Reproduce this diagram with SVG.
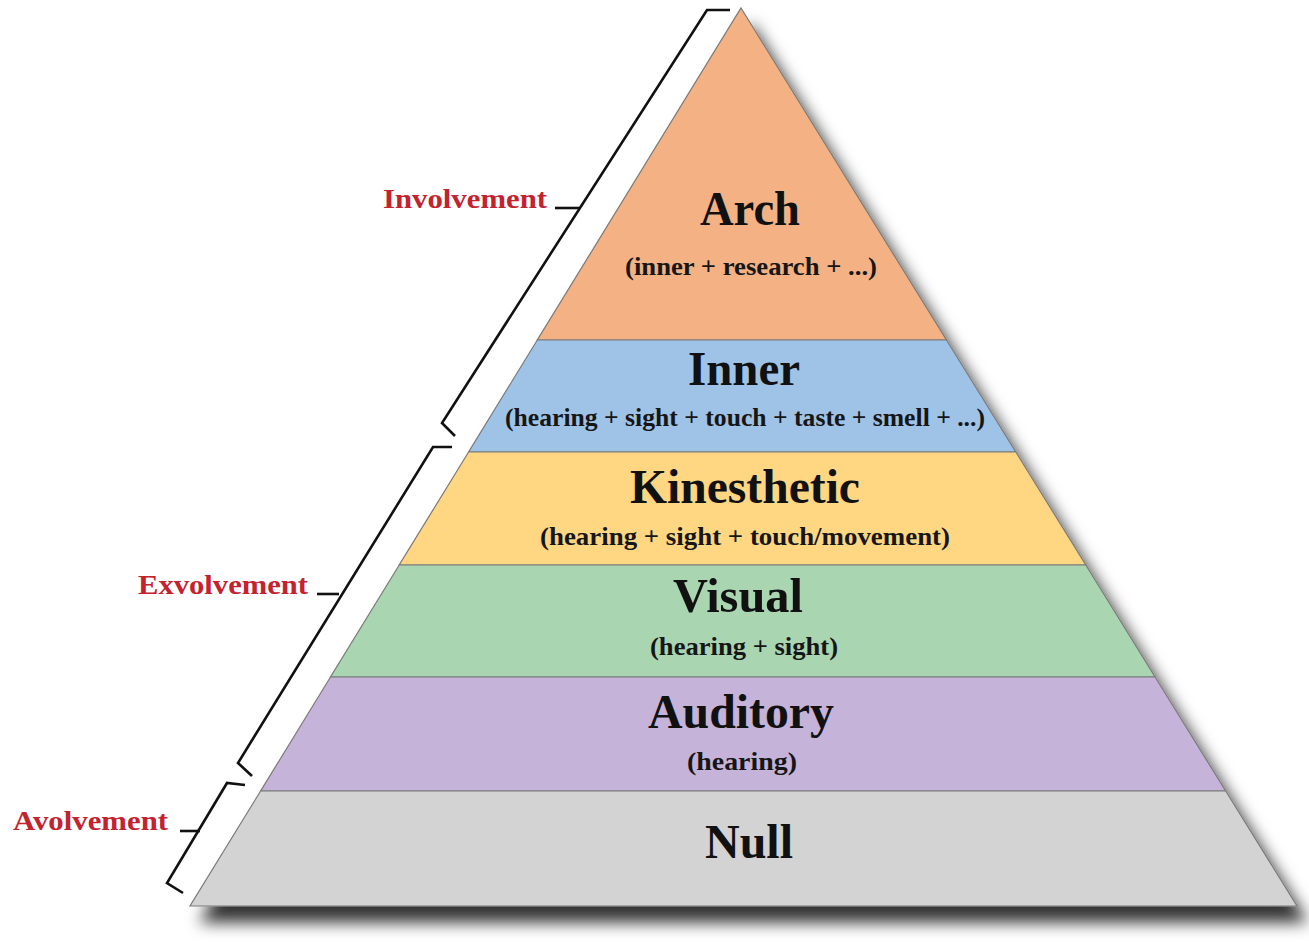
<svg xmlns="http://www.w3.org/2000/svg" width="1309" height="947" viewBox="0 0 1309 947">
<defs>
<filter id="shadow" x="-10%" y="-10%" width="125%" height="125%">
<feGaussianBlur in="SourceAlpha" stdDeviation="8"/>
<feOffset dx="10" dy="16" result="b"/>
<feFlood flood-color="#000" flood-opacity="0.8"/>
<feComposite in2="b" operator="in"/>
<feMerge><feMergeNode/><feMergeNode in="SourceGraphic"/></feMerge>
</filter>
</defs>
<style>
.band{stroke:#7a7a7a;stroke-width:1.2}
.title{font-family:"Liberation Serif","Times New Roman",serif;font-weight:bold;font-size:48px;fill:#111;text-anchor:middle}
.sub{font-family:"Liberation Serif","Times New Roman",serif;font-weight:bold;font-size:25px;fill:#161616;text-anchor:middle}
.lab{font-family:"Liberation Serif","Times New Roman",serif;font-weight:bold;font-size:28px;fill:#c3232f}
.br{fill:none;stroke:#111;stroke-width:2.6;stroke-linejoin:miter}
</style>
<rect width="1309" height="947" fill="#fff"/>
<g id="pyramid" filter="url(#shadow)">
<g id="arch">
<polygon class="band" points="741,8 946.5,340 537.3,340" fill="#f4b183"/>
</g>
<g id="inner">
<polygon class="band" points="537.3,340 946.5,340 1015.8,452 468.6,452" fill="#9fc3e7"/>
</g>
<g id="kinesthetic">
<polygon class="band" points="468.6,452 1015.8,452 1085.8,565 399.2,565" fill="#ffd682"/>
</g>
<g id="visual">
<polygon class="band" points="399.2,565 1085.8,565 1155.1,677 330.5,677" fill="#a9d5b1"/>
</g>
<g id="auditory">
<polygon class="band" points="330.5,677 1155.1,677 1225.7,791 260.6,791" fill="#c5b3da"/>
</g>
<g id="null">
<polygon class="band" points="260.6,791 1225.7,791 1297,906 190,906" fill="#d3d3d3"/>
</g>
</g>
<g id="texts">
<text class="title" x="750" y="225" textLength="100" lengthAdjust="spacingAndGlyphs">Arch</text>
<text class="sub" x="751" y="275" textLength="252" lengthAdjust="spacingAndGlyphs">(inner + research + ...)</text>
<text class="title" x="744" y="385" textLength="112" lengthAdjust="spacingAndGlyphs">Inner</text>
<text class="sub" x="745" y="426" textLength="480" lengthAdjust="spacingAndGlyphs">(hearing + sight + touch + taste + smell + ...)</text>
<text class="title" x="745" y="503" textLength="230" lengthAdjust="spacingAndGlyphs">Kinesthetic</text>
<text class="sub" x="745" y="545" textLength="410" lengthAdjust="spacingAndGlyphs">(hearing + sight + touch/movement)</text>
<text class="title" x="738" y="612" textLength="130" lengthAdjust="spacingAndGlyphs">Visual</text>
<text class="sub" x="744" y="655" textLength="188" lengthAdjust="spacingAndGlyphs">(hearing + sight)</text>
<text class="title" x="741" y="728" textLength="186" lengthAdjust="spacingAndGlyphs">Auditory</text>
<text class="sub" x="742" y="770" textLength="110" lengthAdjust="spacingAndGlyphs">(hearing)</text>
<text class="title" x="749" y="858" textLength="88" lengthAdjust="spacingAndGlyphs">Null</text>
</g>
<g id="labels">
<text class="lab" x="383" y="208" textLength="164" lengthAdjust="spacingAndGlyphs">Involvement</text>
<text class="lab" x="138" y="594" textLength="170" lengthAdjust="spacingAndGlyphs">Exvolvement</text>
<text class="lab" x="13" y="830" textLength="155" lengthAdjust="spacingAndGlyphs">Avolvement</text>
</g>
<g id="connectors">
<polyline class="br" points="730,10 707,10 442,423 455,436"/>
<line class="br" x1="555" y1="208" x2="580" y2="208"/>
<polyline class="br" points="452,447 433,447 238,763 252,776"/>
<line class="br" x1="317" y1="594" x2="339" y2="594"/>
<polyline class="br" points="245,785 227,783 167,883 183,893"/>
<line class="br" x1="180" y1="831" x2="200" y2="831"/>
</g>
</svg>
